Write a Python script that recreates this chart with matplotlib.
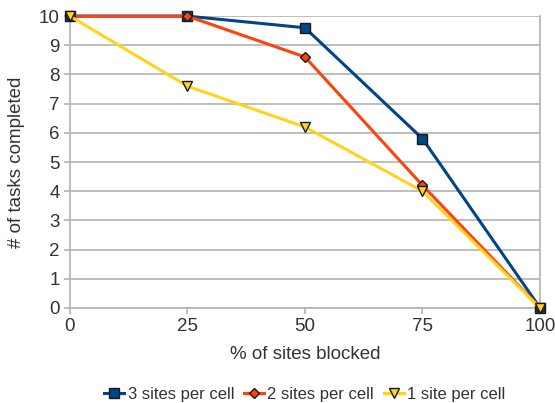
import matplotlib
matplotlib.use("Agg")
import matplotlib.pyplot as plt

plt.rcParams['font.family'] = ['Liberation Sans', 'DejaVu Sans']

blocked = [0, 25, 50, 75, 100]
tres = [10, 10, 9.6, 5.8, 0]
dos = [10, 10, 8.6, 4.2, 0]
uno = [10, 7.6, 6.2, 4.0, 0]

fig = plt.figure(figsize=(5.55, 4.03), dpi=100)
ax = fig.add_axes([0.126, 0.236, 0.847, 0.724])

gris = '#b3b3b3'
ax.plot(blocked, tres, color='#004586', lw=2.2, marker='s', ms=7,
        mec='#1a1a1a', mew=1, label='3 sites per cell', zorder=3)
ax.plot(blocked, dos, color='#ff420e', lw=2.2, marker='D', ms=5,
        mec='#1a1a1a', mew=1, label='2 sites per cell', zorder=4)
ax.plot(blocked, uno, color='#ffd320', lw=2.2, marker='v', ms=7,
        mec='#1a1a1a', mew=1, label='1 site per cell', zorder=5)

ax.set_xlim(0, 100)
ax.set_ylim(0, 10)
ax.set_xticks(blocked)
ax.set_yticks(range(0, 11))
ax.yaxis.grid(True, color=gris, lw=1.2)
ax.set_axisbelow(True)
ax.spines['top'].set_visible(False)
for s in ['left', 'bottom', 'right']:
    ax.spines[s].set_color(gris)
    ax.spines[s].set_linewidth(1.2)
ax.tick_params(colors=gris, length=4, width=1.2, labelcolor='#333333', labelsize=13.5)

ax.set_xlabel('% of sites blocked', fontsize=13.5, color='#333333', labelpad=8)
ax.set_ylabel('# of tasks completed', fontsize=13.5, color='#333333', labelpad=10)

ax.legend(loc='upper center', bbox_to_anchor=(0.5, -0.22), ncol=3, frameon=False,
          fontsize=12, handlelength=1.2, handletextpad=0.2, columnspacing=0.6,
          labelcolor='#333333')

for line in ax.get_lines():
    line.set_clip_on(False)

fig.savefig('out.png', dpi=100)
